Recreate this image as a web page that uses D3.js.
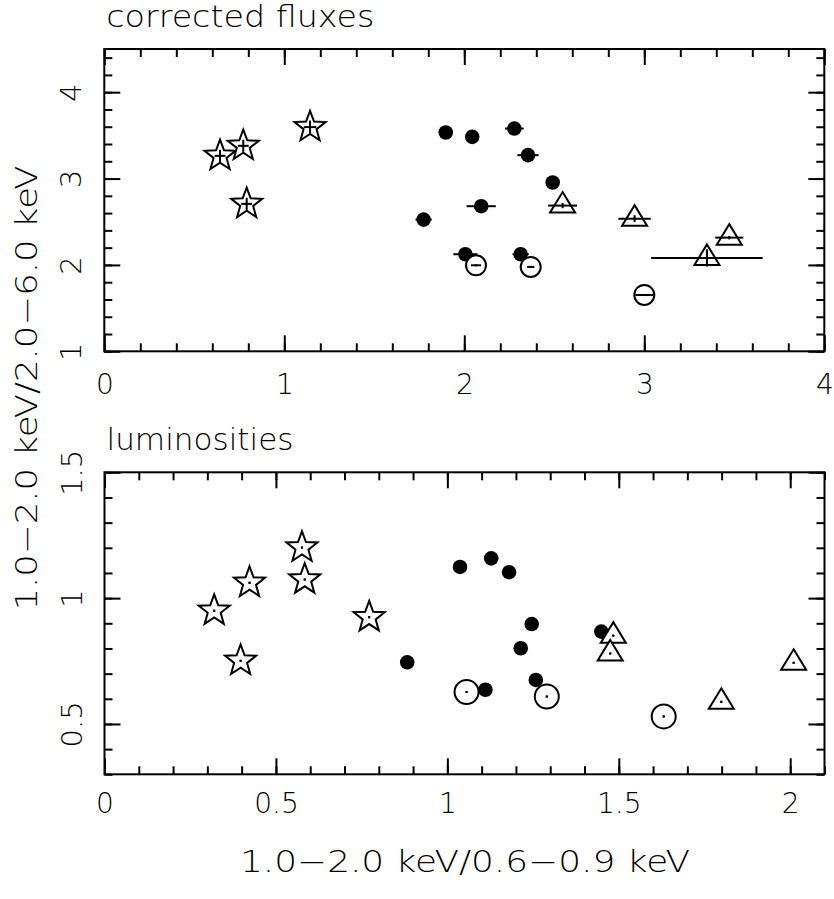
<!DOCTYPE html>
<html>
<head>
<meta charset="UTF-8">
<title>corrected fluxes / luminosities</title>
<script src="https://cdn.jsdelivr.net/npm/d3@7"></script>
<style>
  body { margin: 0; background: #fff; }
  text { font-family: "DejaVu Sans", sans-serif; font-weight: 200; fill: #000; }
</style>
</head>
<body>
<div id="chart"></div>
<script>
// ---- top panel: corrected fluxes ----
var fluxStarX = [0.643, 0.772, 0.791, 1.143];
var fluxStarY = [3.263, 3.379, 2.707, 3.596];
var fluxStarXErr = [0.03, 0.03, 0.03, 0.035];
var fluxStarYErr = [0.07, 0.07, 0.07, 0.075];

var fluxDotX = [1.897, 2.044, 2.278, 2.354, 2.491, 2.094, 1.774, 2.006, 2.313];
var fluxDotY = [3.533, 3.483, 3.579, 3.271, 2.954, 2.680, 2.525, 2.124, 2.124];
var fluxDotXErr = [0.02, 0.02, 0.052, 0.059, 0.02, 0.081, 0.045, 0.067, 0.045];
var fluxDotYErr = [0.02, 0.02, 0.02, 0.02, 0.02, 0.02, 0.02, 0.02, 0.02];

var fluxRingX = [2.065, 2.369, 3.0];
var fluxRingY = [1.996, 1.977, 1.652];
var fluxRingXErr = [0.028, 0.02, 0.05];
var fluxRingYErr = [0.01, 0.01, 0.01];

var fluxTriX = [2.546, 2.946, 3.472, 3.348];
var fluxTriY = [2.687, 2.536, 2.316, 2.081];
var fluxTriXErr = [0.08, 0.09, 0.078, 0.31];
var fluxTriYErr = [0.03, 0.04, 0.02, 0.1];

// ---- bottom panel: luminosities ----
var lumStarX = [0.320, 0.397, 0.423, 0.576, 0.584, 0.772];
var lumStarY = [0.950, 0.751, 1.061, 1.201, 1.074, 0.924];

var lumDotX = [0.883, 1.037, 1.128, 1.180, 1.246, 1.214, 1.258, 1.111, 1.449];
var lumDotY = [0.745, 1.124, 1.158, 1.103, 0.897, 0.801, 0.675, 0.636, 0.867];

var lumRingX = [1.056, 1.290, 1.631];
var lumRingY = [0.627, 0.609, 0.530];

var lumTriX = [1.484, 1.475, 1.799, 2.010];
var lumTriY = [0.851, 0.780, 0.588, 0.743];

var lumXErr = 0.003, lumYErr = 0.004;

// axis ticks
var fluxXMajor = [0, 1, 2, 3, 4];
var fluxYMajor = [1, 2, 3, 4];
var lumXMajor = [0, 0.5, 1, 1.5, 2];
var lumYMajor = [0.5, 1, 1.5];

var W = 834, H = 899;
var svg = d3.select("#chart").append("svg")
    .attr("width", W).attr("height", H);

function rows(xs, ys, xe, ye) {
    return xs.map(function (d, i) {
        return {
            x: d, y: ys[i],
            xe: Array.isArray(xe) ? xe[i] : xe,
            ye: Array.isArray(ye) ? ye[i] : ye
        };
    });
}

function starPath(R, r) {
    var p = [];
    for (var i = 0; i < 10; i++) {
        var a = -Math.PI / 2 + i * Math.PI / 5;
        var rad = i % 2 === 0 ? R : r;
        p.push([rad * Math.cos(a), rad * Math.sin(a)]);
    }
    return "M" + p.join("L") + "Z";
}
var triPath = "M0,-13.5L12.5,7L-12.5,7Z";

function panel(opt) {
    var g = svg.append("g");
    var x = d3.scaleLinear().domain(opt.xDomain).range([opt.left, opt.left + opt.width]);
    var y = d3.scaleLinear().domain(opt.yDomain).range([opt.top + opt.height, opt.top]);

    var minorX = d3.range(opt.xDomain[0], opt.xDomain[1] + 1e-9, opt.xMinor);
    var minorY = d3.range(opt.yDomain[0], opt.yDomain[1] + 1e-9, opt.yMinor);

    function addAxis(axis, transform) {
        var a = g.append("g").attr("transform", transform).call(axis);
        a.select(".domain").remove();
        a.selectAll("line").attr("stroke", "#000").attr("stroke-width", 2);
        return a;
    }
    var fmt = d3.format("");
    // bottom
    addAxis(d3.axisBottom(x).tickValues(minorX).tickSize(-8).tickFormat(""), "translate(0," + y.range()[0] + ")");
    var bx = addAxis(d3.axisBottom(x).tickValues(opt.xMajor).tickSize(-16).tickPadding(opt.xPad).tickFormat(fmt),
        "translate(0," + y.range()[0] + ")");
    bx.selectAll("text").attr("font-size", 28);
    // top
    addAxis(d3.axisTop(x).tickValues(minorX).tickSize(-8).tickFormat(""), "translate(0," + opt.top + ")");
    addAxis(d3.axisTop(x).tickValues(opt.xMajor).tickSize(-16).tickFormat(""), "translate(0," + opt.top + ")");
    // left
    addAxis(d3.axisLeft(y).tickValues(minorY).tickSize(-8).tickFormat(""), "translate(" + opt.left + ",0)");
    var ly = addAxis(d3.axisLeft(y).tickValues(opt.yMajor).tickSize(-16).tickFormat(fmt),
        "translate(" + opt.left + ",0)");
    ly.selectAll("text")
        .attr("x", 0).attr("y", -23).attr("dy", 0)
        .attr("transform", "rotate(-90)")
        .attr("text-anchor", "middle")
        .attr("font-size", 29);
    // right
    addAxis(d3.axisRight(y).tickValues(minorY).tickSize(-8).tickFormat(""), "translate(" + (opt.left + opt.width) + ",0)");
    addAxis(d3.axisRight(y).tickValues(opt.yMajor).tickSize(-16).tickFormat(""), "translate(" + (opt.left + opt.width) + ",0)");

    g.append("rect")
        .attr("x", opt.left).attr("y", opt.top)
        .attr("width", opt.width).attr("height", opt.height)
        .attr("fill", "none").attr("stroke", "#000").attr("stroke-width", 2);

    g.append("text")
        .attr("x", opt.left + 2).attr("y", opt.titleY)
        .attr("font-size", 30)
        .attr("textLength", opt.titleLen).attr("lengthAdjust", "spacingAndGlyphs")
        .text(opt.title);

    function errBars(data) {
        var e = g.append("g").attr("stroke", "#000").attr("stroke-width", 2);
        e.selectAll(".xe").data(data).join("line")
            .attr("x1", function (d) { return x(d.x - d.xe); })
            .attr("x2", function (d) { return x(d.x + d.xe); })
            .attr("y1", function (d) { return y(d.y); })
            .attr("y2", function (d) { return y(d.y); });
        e.selectAll(".ye").data(data).join("line")
            .attr("x1", function (d) { return x(d.x); })
            .attr("x2", function (d) { return x(d.x); })
            .attr("y1", function (d) { return y(d.y - d.ye); })
            .attr("y2", function (d) { return y(d.y + d.ye); });
    }

    // filled circles
    g.append("g").selectAll("circle").data(opt.dots).join("circle")
        .attr("cx", function (d) { return x(d.x); })
        .attr("cy", function (d) { return y(d.y); })
        .attr("r", 7.3).attr("fill", "#000");
    errBars(opt.dots);

    // stars
    g.append("g").selectAll("path").data(opt.stars).join("path")
        .attr("transform", function (d) { return "translate(" + x(d.x) + "," + y(d.y) + ")"; })
        .attr("d", starPath(16.3, 6.8))
        .attr("fill", "#fff").attr("stroke", "#000").attr("stroke-width", 2)
        .attr("stroke-linejoin", "miter");
    errBars(opt.stars);

    // open circles
    g.append("g").selectAll("circle").data(opt.rings).join("circle")
        .attr("cx", function (d) { return x(d.x); })
        .attr("cy", function (d) { return y(d.y); })
        .attr("r", opt.ringR)
        .attr("fill", "#fff").attr("stroke", "#000").attr("stroke-width", 2);
    errBars(opt.rings);

    // triangles
    g.append("g").selectAll("path").data(opt.tris).join("path")
        .attr("transform", function (d) { return "translate(" + x(d.x) + "," + y(d.y) + ")"; })
        .attr("d", triPath)
        .attr("fill", "#fff").attr("stroke", "#000").attr("stroke-width", 2);
    errBars(opt.tris);
}

panel({
    left: 104.3, width: 720, top: 49, height: 302.3,
    xDomain: [0, 4], yDomain: [1, 4.5], xMinor: 0.2, yMinor: 0.2,
    xMajor: fluxXMajor, yMajor: fluxYMajor, xPad: 23,
    title: "corrected fluxes", titleY: 27, titleLen: 268, ringR: 10,
    stars: rows(fluxStarX, fluxStarY, fluxStarXErr, fluxStarYErr),
    dots: rows(fluxDotX, fluxDotY, fluxDotXErr, fluxDotYErr),
    rings: rows(fluxRingX, fluxRingY, fluxRingXErr, fluxRingYErr),
    tris: rows(fluxTriX, fluxTriY, fluxTriXErr, fluxTriYErr)
});

panel({
    left: 104.5, width: 720, top: 472.3, height: 302,
    xDomain: [0, 2.1], yDomain: [0.3, 1.5], xMinor: 0.1, yMinor: 0.1,
    xMajor: lumXMajor, yMajor: lumYMajor, xPad: 19,
    title: "luminosities", titleY: 450, titleLen: 187, ringR: 12,
    stars: rows(lumStarX, lumStarY, lumXErr, lumYErr),
    dots: rows(lumDotX, lumDotY, 0, 0),
    rings: rows(lumRingX, lumRingY, lumXErr, lumYErr),
    tris: rows(lumTriX, lumTriY, lumXErr, lumYErr)
});

// shared axis titles
svg.append("text")
    .attr("transform", "translate(37,388) rotate(-90)")
    .attr("text-anchor", "middle")
    .attr("font-size", 30)
    .attr("textLength", 445).attr("lengthAdjust", "spacingAndGlyphs")
    .text("1.0\u22122.0 keV/2.0\u22126.0 keV");

svg.append("text")
    .attr("x", 465).attr("y", 872)
    .attr("text-anchor", "middle")
    .attr("font-size", 30)
    .attr("textLength", 450).attr("lengthAdjust", "spacingAndGlyphs")
    .text("1.0\u22122.0 keV/0.6\u22120.9 keV");
</script>
</body>
</html>
